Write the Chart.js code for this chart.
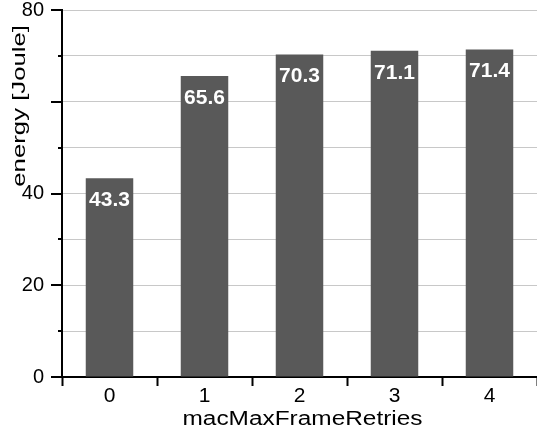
<!DOCTYPE html>
<html>
<head>
<meta charset="utf-8">
<script src="https://cdn.jsdelivr.net/npm/chart.js@4/dist/chart.umd.min.js"></script>
<style>
  html, body { margin: 0; padding: 0; background: #fff; }
  #wrap { width: 537px; height: 433px; }
</style>
</head>
<body>
<div id="wrap"><canvas id="chart"></canvas></div>
<script>
const categories = ["0", "1", "2", "3", "4"];
const energy = [43.3, 65.6, 70.3, 71.1, 71.4];
const yMajorTicks = [0, 20, 40, 60, 80];
// the 60 label sits under the axis title in the original, so it is not shown
const yTickLabels = [0, 20, 40, 80];
const xTitle = "macMaxFrameRetries";
const yTitle = "energy [Joule]";

const FONT = "'Liberation Sans', Arial, sans-serif";

// white value labels inside the top of each bar
const barLabels = {
  id: "barLabels",
  afterDatasetsDraw(chart) {
    const ctx = chart.ctx;
    const meta = chart.getDatasetMeta(0);
    ctx.save();
    ctx.font = "bold 21px " + FONT;
    ctx.fillStyle = "#ffffff";
    ctx.textAlign = "center";
    ctx.textBaseline = "middle";
    meta.data.forEach((bar, i) => {
      ctx.fillText(energy[i].toFixed(1), bar.x, bar.y + 22);
    });
    ctx.restore();
  }
};

// outward y ticks: long every 20, short in between
const yTicks = {
  id: "yTicks",
  afterDraw(chart) {
    const ctx = chart.ctx;
    const y = chart.scales.y;
    const left = chart.chartArea.left;
    ctx.save();
    ctx.strokeStyle = "#000";
    ctx.lineWidth = 2;
    for (let v = 0; v <= 80; v += 10) {
      const py = Math.round(y.getPixelForValue(v));
      const len = yMajorTicks.includes(v) ? 11 : 4;
      ctx.beginPath();
      ctx.moveTo(left - len, py);
      ctx.lineTo(left, py);
      ctx.stroke();
    }
    ctx.restore();
  }
};

// axis titles, stretched along the text like the original export
const axisTitles = {
  id: "axisTitles",
  afterDraw(chart) {
    const ctx = chart.ctx;
    const area = chart.chartArea;
    ctx.save();
    ctx.fillStyle = "#000";
    ctx.font = "20px " + FONT;
    ctx.textAlign = "center";
    ctx.textBaseline = "alphabetic";
    ctx.translate((area.left + area.right) / 2 + 3, 425);
    ctx.scale(1.22, 1);
    ctx.fillText(xTitle, 0, 0);
    ctx.restore();

    ctx.save();
    ctx.fillStyle = "#000";
    ctx.font = "18px " + FONT;
    ctx.textAlign = "right";
    ctx.textBaseline = "alphabetic";
    ctx.translate(25, area.top + 15);
    ctx.rotate(-Math.PI / 2);
    ctx.scale(1.43, 1);
    ctx.fillText(yTitle, 0, 0);
    ctx.restore();
  }
};

new Chart(document.getElementById("chart"), {
  type: "bar",
  data: {
    labels: categories,
    datasets: [
      {
        data: energy,
        backgroundColor: "#595959",
        borderWidth: 0,
        barPercentage: 0.5,
        categoryPercentage: 1.0,
      },
    ],
  },
  options: {
    responsive: true,
    maintainAspectRatio: false,
    animation: false,
    layout: { padding: { top: 10, right: 0, bottom: 0, left: 0 } },
    plugins: {
      legend: { display: false },
      tooltip: { enabled: false },
    },
    scales: {
      x: {
        grid: {
          offset: true,
          drawOnChartArea: false,
          drawTicks: true,
          tickLength: 9,
          tickColor: "#000",
          tickWidth: 2,
        },
        border: { color: "#000", width: 2 },
        ticks: {
          color: "#000",
          padding: 0,
          font: { family: FONT, size: 21, lineHeight: 1 },
        },
        afterFit(scale) {
          scale.height = 56;
        },
      },
      y: {
        min: 0,
        max: 80,
        grid: {
          color: "#c8c8c8",
          lineWidth: 1,
          drawTicks: false,
        },
        border: { color: "#000", width: 2 },
        ticks: {
          stepSize: 10,
          color: "#000",
          padding: 18,
          font: { family: FONT, size: 20, lineHeight: 1 },
          callback: (v) => (yTickLabels.includes(v) ? v : ""),
        },
        afterFit(scale) {
          scale.width = 62;
          scale.paddingTop = 0;
          scale.paddingBottom = 0;
        },
      },
    },
  },
  plugins: [barLabels, yTicks, axisTitles],
});
</script>
</body>
</html>
